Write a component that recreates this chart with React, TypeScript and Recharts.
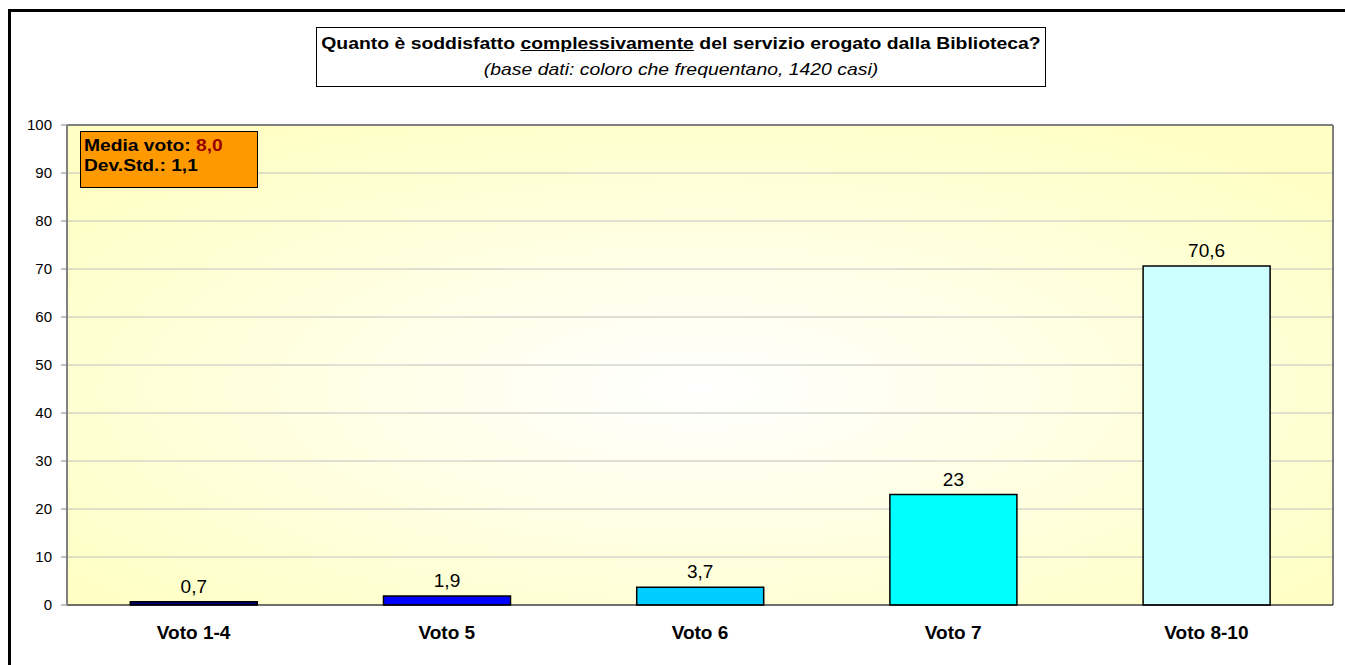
import { BarChart, Bar, XAxis, YAxis, CartesianGrid, Cell, LabelList, ReferenceLine } from 'recharts'

const categories = ['Voto 1-4', 'Voto 5', 'Voto 6', 'Voto 7', 'Voto 8-10']
const percentages = [0.7, 1.9, 3.7, 23, 70.6]
const barColors = ['#000080', '#0000FF', '#00CCFF', '#00FFFF', '#CCFFFF']
const yTicks = [0, 10, 20, 30, 40, 50, 60, 70, 80, 90, 100]

const titleText = 'Quanto è soddisfatto '
const titleUnderlined = 'complessivamente'
const titleRest = ' del servizio erogato dalla Biblioteca?'
const subtitleText = '(base dati: coloro che frequentano, 1420 casi)'
const mediaVoto = '8,0'
const devStd = '1,1'

const font = '"Liberation Sans", Arial, sans-serif'

export default function App() {
  const data = categories.map((name, i) => ({ name, value: percentages[i] }))

  return (
    <div
      style={{
        position: 'fixed',
        left: 8,
        top: 8,
        width: 1337,
        height: 657,
        fontFamily: font,
        overflow: 'hidden',
        background: '#fff',
      }}
    >
      {/* cornice esterna */}
      <div
        style={{
          position: 'absolute',
          left: 0,
          top: 1,
          width: 1337,
          height: 670,
          boxSizing: 'border-box',
          borderTop: '3px solid #000',
          borderLeft: '3px solid #000',
        }}
      />

      <div style={{ position: 'absolute', left: 0, top: 0 }}>
        <BarChart
          width={1337}
          height={650}
          data={data}
          margin={{ top: 117, right: 12, bottom: 13, left: 3 }}
          barCategoryGap="25%"
        >
          <defs>
            <radialGradient id="plotBg" cx="50%" cy="55%" r="65%">
              <stop offset="0%" stopColor="#FFFFFF" />
              <stop offset="100%" stopColor="#FFFFC4" />
            </radialGradient>
          </defs>
          <CartesianGrid vertical={false} stroke="#C0C0C0" fill="url(#plotBg)" fillOpacity={1} />
          <CartesianGrid
            horizontal={false}
            stroke="#808080"
            strokeWidth={2}
            verticalCoordinatesGenerator={({ offset }: any) => [offset.left + offset.width]}
          />
          <ReferenceLine y={100} stroke="#808080" strokeWidth={2} />
          <XAxis
            dataKey="name"
            height={40}
            axisLine={{ stroke: '#000', strokeWidth: 1 }}
            tickLine={false}
            tickSize={6}
            tickMargin={15}
            tick={{ fill: '#000', fontSize: 19, fontWeight: 'bold', fontFamily: font }}
          />
          <YAxis
            width={56}
            domain={[0, 100]}
            ticks={yTicks}
            interval={0}
            axisLine={{ stroke: '#808080', strokeWidth: 2 }}
            tickLine={{ stroke: '#808080' }}
            tickSize={6}
            tickMargin={9}
            tick={{ fill: '#000', fontSize: 15, fontFamily: font }}
          />
          <Bar dataKey="value" stroke="#000" strokeWidth={1.5} isAnimationActive={false}>
            {data.map((d, i) => (
              <Cell key={d.name} fill={barColors[i]} />
            ))}
            <LabelList
              dataKey="value"
              position="top"
              offset={9}
              fill="#000"
              fontSize={19}
              fontFamily={font}
              formatter={(v: any) => String(v).replace('.', ',')}
            />
          </Bar>
        </BarChart>
      </div>

      {/* titolo */}
      <div
        style={{
          position: 'absolute',
          left: 308,
          top: 19,
          width: 730,
          height: 60,
          boxSizing: 'border-box',
          border: '1px solid #000',
          background: '#fff',
          textAlign: 'center',
          color: '#000',
          fontSize: 17,
          lineHeight: '26px',
          paddingTop: 3,
        }}
      >
        <div style={{ transform: 'scaleX(1.14)', transformOrigin: 'center' }}>
          <div style={{ fontWeight: 'bold', whiteSpace: 'nowrap' }}>
            {titleText}
            <span style={{ textDecoration: 'underline' }}>{titleUnderlined}</span>
            {titleRest}
          </div>
          <div style={{ fontStyle: 'italic' }}>{subtitleText}</div>
        </div>
      </div>

      {/* media e deviazione standard */}
      <div
        style={{
          position: 'absolute',
          left: 72,
          top: 123,
          width: 178,
          height: 57,
          boxSizing: 'border-box',
          border: '1px solid #000',
          background: '#FF9900',
          color: '#000',
          fontWeight: 'bold',
          fontSize: 17,
          lineHeight: '20px',
          paddingLeft: 3,
          paddingTop: 4,
        }}
      >
        <div style={{ transform: 'scaleX(1.13)', transformOrigin: 'left', whiteSpace: 'nowrap' }}>
          <div>
            Media voto: <span style={{ color: '#990000' }}>{mediaVoto}</span>
          </div>
          <div>Dev.Std.: {devStd}</div>
        </div>
      </div>
    </div>
  )
}
